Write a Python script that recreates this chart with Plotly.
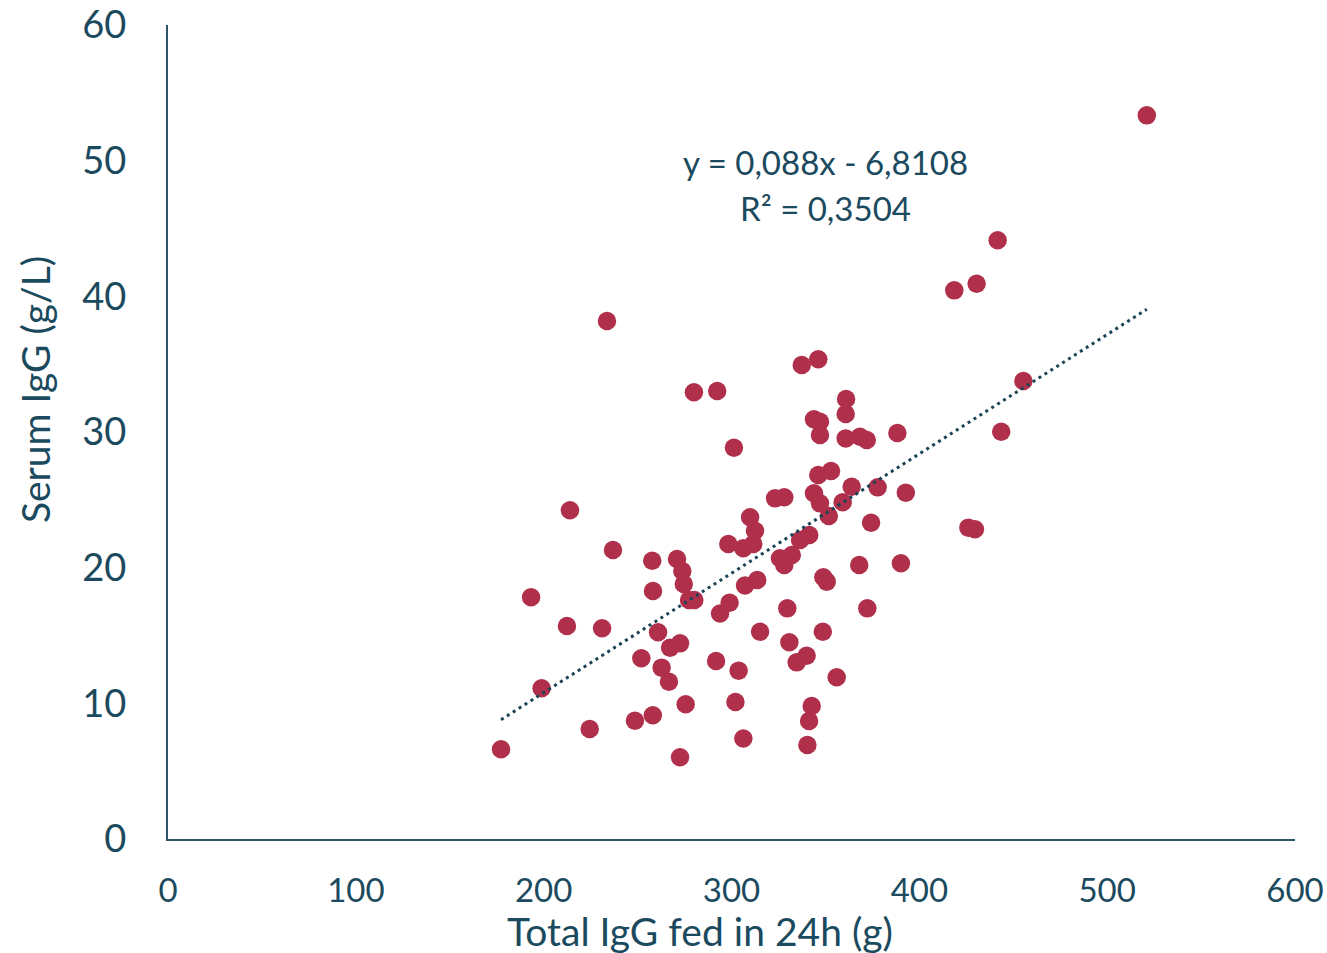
import numpy as np
import plotly.graph_objects as go

# Data
total_igg_fed = [
    177.3, 193.3, 198.9, 212.4, 214.0, 224.5, 231.1, 233.7, 236.9, 248.6,
    252.0, 258.1, 258.2, 257.8, 260.9, 262.8, 266.7, 267.3, 272.6, 271.0,
    272.6, 273.8, 274.6, 275.6, 277.4, 280.2, 280.0, 292.4, 291.8, 293.9,
    298.3, 299.0, 301.3, 302.1, 303.8, 306.3, 307.2, 306.3, 309.9, 311.6,
    312.5, 313.7, 315.2, 323.2, 328.1, 325.8, 328.1, 329.7, 330.8, 332.1,
    334.7, 336.5, 337.4, 340.0, 340.4, 341.4, 341.3, 342.7, 343.9, 343.9,
    346.2, 346.2, 347.1, 347.1, 347.1, 348.9, 348.6, 350.7, 351.8, 353.0,
    356.0, 359.2, 361.0, 360.8, 360.8, 364.0, 368.0, 368.4, 372.3, 372.0,
    374.3, 377.8, 388.3, 390.2, 392.8, 418.6, 426.1, 429.6, 430.5, 441.7,
    443.6, 455.4, 521.1,
]
serum_igg = [
    6.61, 17.82, 11.11, 15.70, 24.23, 8.11, 15.53, 38.18, 21.30, 8.72,
    13.32, 9.12, 18.28, 20.51, 15.24, 12.63, 11.59, 14.10, 14.42, 20.64,
    6.02, 19.75, 18.80, 9.93, 17.62, 17.62, 32.93, 33.02, 13.12, 16.62,
    21.74, 17.41, 28.84, 10.10, 12.41, 7.41, 18.69, 21.43, 23.71, 21.74,
    22.72, 19.09, 15.28, 25.11, 25.19, 20.69, 20.20, 17.00, 14.50, 20.93,
    13.02, 22.04, 34.94, 13.51, 6.93, 22.41, 8.70, 9.80, 25.48, 30.94,
    35.36, 26.83, 24.74, 30.76, 29.78, 19.29, 15.28, 18.97, 23.81, 27.12,
    11.92, 24.82, 32.43, 31.33, 29.53, 25.97, 20.20, 29.65, 17.00, 29.41,
    23.31, 25.92, 29.93, 20.32, 25.53, 40.44, 22.95, 22.83, 40.93, 44.13,
    30.02, 33.76, 53.34,
]
trend_slope = 0.088
trend_intercept = -6.8108
r_squared = 0.3504
x_ticks = [0, 100, 200, 300, 400, 500, 600]
y_ticks = [0, 10, 20, 30, 40, 50, 60]
x_title = "Total IgG fed in 24h (g)"
y_title = "Serum IgG (g/L)"

TEXT = "#1B4A5E"
AXIS = "#2B5468"
MARK = "#B0304C"
FONT = "Lato, 'Open Sans', sans-serif"

trend_x = np.array([min(total_igg_fed), max(total_igg_fed)])
trend_y = trend_slope * trend_x + trend_intercept

fig = go.Figure()
fig.add_trace(go.Scatter(
    x=total_igg_fed, y=serum_igg, mode="markers",
    marker=dict(size=18.5, color=MARK, line=dict(width=0)),
    showlegend=False, hoverinfo="x+y",
))
fig.add_trace(go.Scatter(
    x=trend_x, y=trend_y, mode="lines",
    line=dict(color="#1A4455", width=3, dash="3px,4px"),
    showlegend=False, hoverinfo="skip",
))

eq_text = f"y = {trend_slope:.3f}x - {abs(trend_intercept):.4f}".replace(".", ",")
r2_text = f"R² = {r_squared:.4f}".replace(".", ",")
fig.add_annotation(x=350.3, y=49.9, xref="x", yref="y", text=eq_text,
                   showarrow=False, xanchor="center", yanchor="middle",
                   font=dict(family=FONT, size=33, color=TEXT))
fig.add_annotation(x=350.3, y=46.5, xref="x", yref="y", text=r2_text,
                   showarrow=False, xanchor="center", yanchor="middle",
                   font=dict(family=FONT, size=33, color=TEXT))

# Axis titles (placed like the reference, slightly off-centre)
fig.add_annotation(x=0.472, y=-0.113, xref="paper", yref="paper", text=x_title,
                   showarrow=False, xanchor="center", yanchor="middle",
                   font=dict(family=FONT, size=39, color=TEXT))
fig.add_annotation(x=-0.118, y=0.5516, xref="paper", yref="paper", text=y_title,
                   showarrow=False, xanchor="center", yanchor="middle",
                   textangle=-90,
                   font=dict(family=FONT, size=39, color=TEXT))

fig.update_layout(
    width=1327, height=953, autosize=False,
    margin=dict(l=168, r=32, t=25, b=114, autoexpand=False),
    paper_bgcolor="white", plot_bgcolor="white",
    font=dict(family=FONT, color=TEXT, size=34),
)
fig.update_xaxes(
    range=[0, 600], tickvals=x_ticks, ticktext=[str(v) for v in x_ticks],
    showgrid=False, zeroline=False, showline=True, linecolor=AXIS, linewidth=2,
    ticks="", ticklabelstandoff=21, automargin=False, ticklabeloverflow="allow",
    tickfont=dict(family=FONT, size=33, color=TEXT),
)
fig.update_yaxes(
    range=[0, 60], tickvals=y_ticks, ticktext=[str(v) for v in y_ticks],
    showgrid=False, zeroline=False, showline=True, linecolor=AXIS, linewidth=2,
    ticks="", ticklabelstandoff=32, automargin=False, ticklabeloverflow="allow",
    tickfont=dict(family=FONT, size=38, color=TEXT),
)

# Remove the browser's default 8px body margin so the figure fills the window
fig.write_html("out.html", config={"displayModeBar": False},
               post_script="document.body.style.margin='0';")
